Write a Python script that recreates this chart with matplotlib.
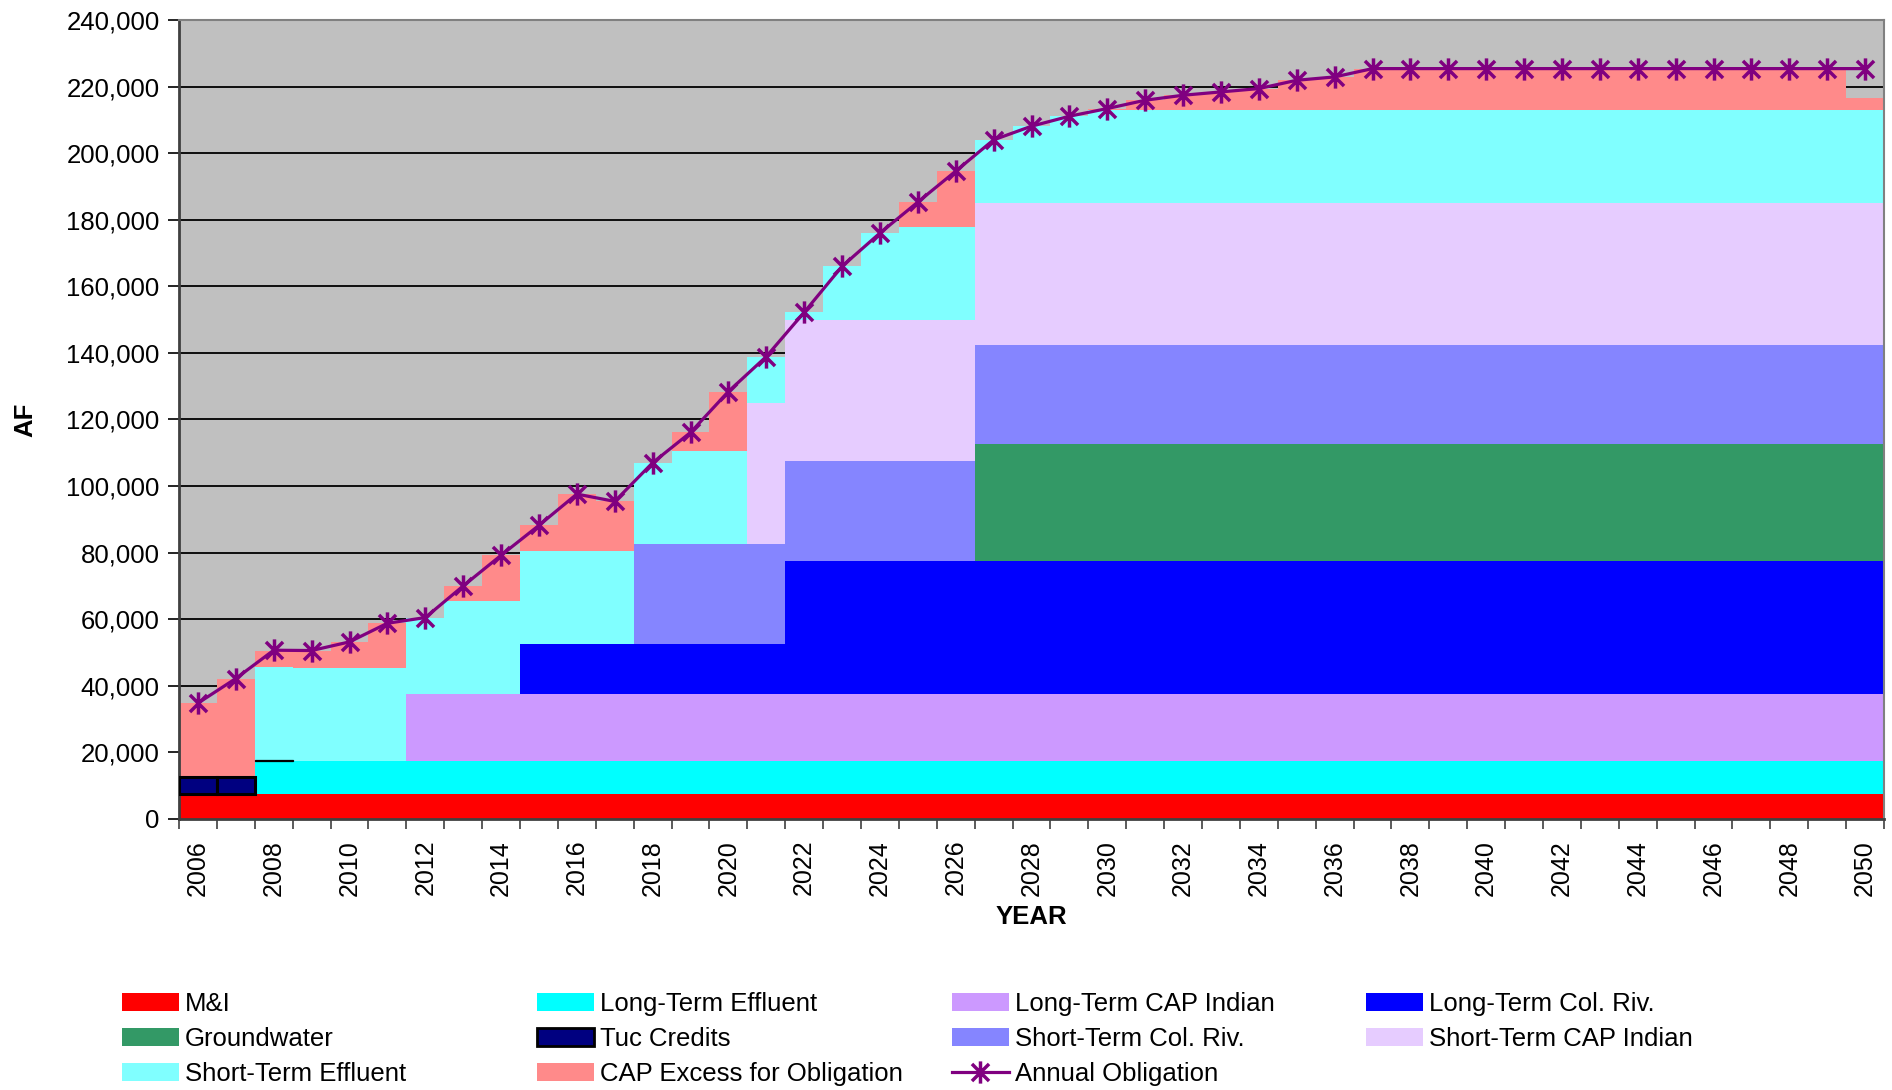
import numpy as np
import matplotlib
matplotlib.use("Agg")
import matplotlib.pyplot as plt
from matplotlib.path import Path
from matplotlib.ticker import StrMethodFormatter
from matplotlib.lines import Line2D
from matplotlib.patches import Patch

plt.rcParams['font.family'] = ['Liberation Sans', 'DejaVu Sans']

years = list(range(2006, 2051))

# supply sources, AF per year (stack order bottom -> top)
mni = [7500] * 45
lt_effluent = [0] * 2 + [10000] * 43
tuc_credits = [5000, 5000, 300] + [0] * 42
lt_cap_indian = [0] * 6 + [20000] * 39
lt_col_riv = [0] * 9 + [15000] * 7 + [40000] * 29
groundwater = [0] * 21 + [35000] * 24
st_col_riv = [0] * 12 + [30000] * 33
st_cap_indian = [0] * 15 + [42500] * 30
st_effluent = [0, 0, 27800, 27900, 27900, 27900, 23000, 27900, 27900, 28000,
               28000, 28000, 24500, 28000, 28000, 13900, 2200, 16000, 26000, 27900,
               27900, 19000, 23100, 26100, 27900] + [27900] * 20
cap_excess = [22300, 29700, 5000, 5200, 7800, 13400, 0, 4600, 13800, 7700,
              17100, 14900, 0, 5600, 17900, 0, 0, 0, 0, 7400,
              16700, 0, 0, 0, 500, 3000, 4500, 5500, 6500, 9000,
              10000, 12500, 12500, 12500, 12500, 12500, 12500, 12500, 12500, 12500,
              12500, 12500, 12500, 12200, 3800]

annual_obligation = [34800, 42200, 50700, 50600, 53200, 58800, 60500, 70000, 79200, 88200,
                     97600, 95400, 107000, 116100, 128400, 138900, 152200, 166000, 176000, 185300,
                     194600, 204000, 208100, 211100, 213400, 215900, 217400, 218400, 219400, 221900,
                     222900] + [225400] * 14

series = [
    ("M&I", mni, "#FF0000"),
    ("Long-Term Effluent", lt_effluent, "#00FFFF"),
    ("Tuc Credits", tuc_credits, "#000080"),
    ("Long-Term CAP Indian", lt_cap_indian, "#CC99FF"),
    ("Long-Term Col. Riv.", lt_col_riv, "#0000FF"),
    ("Groundwater", groundwater, "#339966"),
    ("Short-Term Col. Riv.", st_col_riv, "#8585FF"),
    ("Short-Term CAP Indian", st_cap_indian, "#E6CCFF"),
    ("Short-Term Effluent", st_effluent, "#80FFFF"),
    ("CAP Excess for Obligation", cap_excess, "#FF8A8A"),
]

fig = plt.figure(figsize=(18.92, 10.90), dpi=100)
ax = fig.add_axes([179 / 1892, 1 - 819 / 1090, (1884 - 179) / 1892, (819 - 20) / 1090])
ax.set_facecolor("#C0C0C0")

x = np.arange(len(years))
bottom = np.zeros(len(years))
handles = {}
for name, vals, color in series:
    vals = np.array(vals, dtype=float)
    if name == "Tuc Credits":
        # outlined bars, only where there are credits; tiny ones show as a thin line
        m = vals > 0
        lw = np.where(vals[m] >= 1000, 2.2, 0.9)
        ax.bar(x[m], vals[m], 1.0, bottom=bottom[m], color=color, edgecolor="black",
               linewidth=lw, zorder=3)
        handles[name] = Patch(facecolor=color, edgecolor="black", linewidth=2)
    else:
        ax.bar(x, vals, 1.0, bottom=bottom, color=color, linewidth=0, zorder=2)
        handles[name] = Patch(facecolor=color, linewidth=0)
    bottom += vals

# asterisk marker: an X with a vertical stroke
star = Path([(-1, -1), (1, 1), (-1, 1), (1, -1), (0, -1.3), (0, 1.3)],
            [Path.MOVETO, Path.LINETO, Path.MOVETO, Path.LINETO, Path.MOVETO, Path.LINETO])
ax.plot(x, annual_obligation, color="#800080", linewidth=2.3, marker=star,
        markersize=16, markeredgewidth=2.5, markerfacecolor="none",
        markeredgecolor="#800080", zorder=5)
handles["Annual Obligation"] = Line2D([], [], color="#800080", linewidth=2.3, marker=star,
                                      markersize=16, markeredgewidth=2.5)

ax.set_xlim(-0.5, len(years) - 0.5)
ax.set_ylim(0, 240000)
ax.set_yticks(np.arange(0, 240001, 20000))
ax.yaxis.set_major_formatter(StrMethodFormatter("{x:,.0f}"))
ax.yaxis.grid(True, color="black", linewidth=1.3)
ax.set_axisbelow(True)

ax.set_xticks(x[::2])
ax.set_xticklabels([str(y) for y in years[::2]], rotation=90)
ax.set_xticks(np.arange(-0.5, len(years)), minor=True)
ax.tick_params(axis="x", which="major", length=0, pad=15, labelsize=18)
ax.tick_params(axis="x", which="minor", length=7, width=1.2, color="#404040")
ax.tick_params(axis="y", length=8, width=1.2, pad=6, labelsize=18.5)

for side in ["top", "right"]:
    ax.spines[side].set_color("#808080")
    ax.spines[side].set_linewidth(1.5)
for side in ["left", "bottom"]:
    ax.spines[side].set_color("#404040")
    ax.spines[side].set_linewidth(2)

ax.set_xlabel("YEAR", fontsize=18.5, fontweight="bold", labelpad=7)
ax.set_ylabel("AF", fontsize=18.5, fontweight="bold", labelpad=21)

# legend laid out in four evenly spaced columns
columns = [
    ["M&I", "Groundwater", "Short-Term Effluent"],
    ["Long-Term Effluent", "Tuc Credits", "CAP Excess for Obligation"],
    ["Long-Term CAP Indian", "Short-Term Col. Riv.", "Annual Obligation"],
    ["Long-Term Col. Riv.", "Short-Term CAP Indian"],
]
col_x = [122, 537, 952, 1366]
for cx, names in zip(col_x, columns):
    fig.legend([handles[n] for n in names], names, loc="upper left",
               bbox_to_anchor=(cx / 1892, 1 - 992 / 1090), frameon=False,
               fontsize=18.5, handlelength=2.2, handleheight=0.7, handletextpad=0.25,
               labelspacing=0.42, borderpad=0, borderaxespad=0)

fig.savefig("out.png", dpi=100)
